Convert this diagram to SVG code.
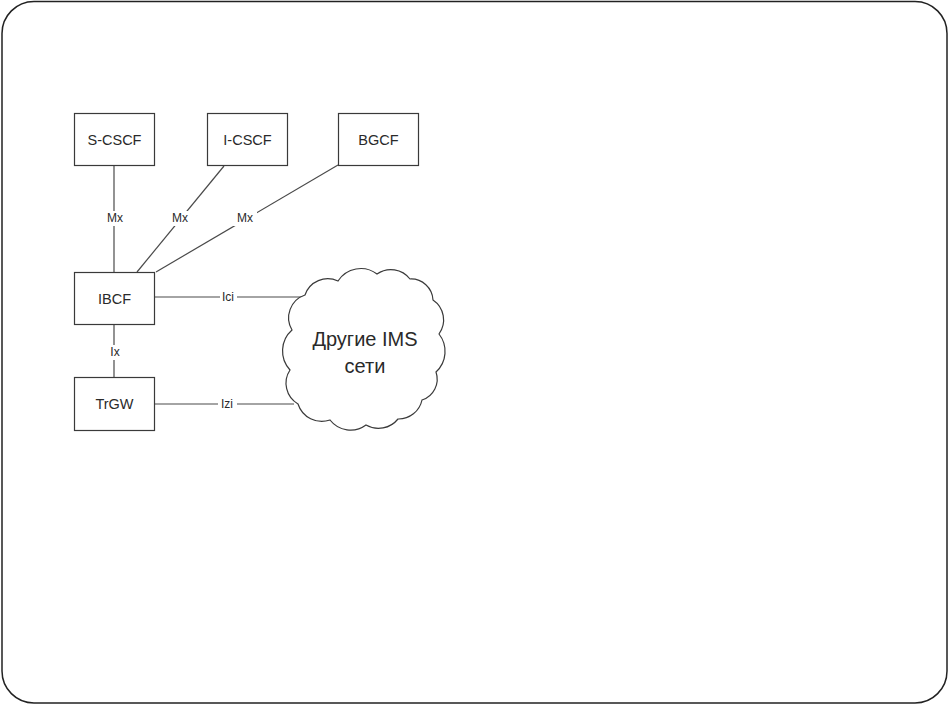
<svg xmlns="http://www.w3.org/2000/svg" width="949" height="705" viewBox="0 0 949 705">
<style>
.box{fill:#fff;stroke:#3a3a3a;stroke-width:1.2}
.ln{stroke:#4a4a4a;stroke-width:1.2;fill:none}
.t{font-family:"Liberation Sans",Arial,sans-serif;fill:#2a2a2a;text-anchor:middle}
.bt{font-size:14.5px}
.lt{font-size:12px}
.bg{fill:#fff}
</style>
<rect x="2" y="1.5" width="945" height="701.5" rx="32" ry="32" fill="#fff" stroke="#222" stroke-width="1.5"/>
<g id="connectors">
<line class="ln" x1="114" y1="166" x2="114" y2="272"/>
<line class="ln" x1="224" y1="166" x2="137" y2="272"/>
<line class="ln" x1="338" y1="165" x2="156" y2="272"/>
<line class="ln" x1="155" y1="297" x2="308" y2="297"/>
<line class="ln" x1="114" y1="325" x2="114" y2="377"/>
<line class="ln" x1="155" y1="404" x2="294" y2="404"/>
<rect class="bg" x="103" y="211" width="23" height="15"/>
<text class="t lt" x="115" y="222">Mx</text>
<rect class="bg" x="168" y="211" width="24" height="15"/>
<text class="t lt" x="180" y="222">Mx</text>
<rect class="bg" x="233" y="211" width="24" height="15"/>
<text class="t lt" x="245" y="222">Mx</text>
<rect class="bg" x="220" y="290" width="17" height="15"/>
<text class="t lt" x="228" y="301">Ici</text>
<rect class="bg" x="108" y="345" width="13" height="15"/>
<text class="t lt" x="115" y="356">Ix</text>
<rect class="bg" x="218" y="397" width="19" height="15"/>
<text class="t lt" x="227" y="408">Izi</text>
</g>
<g id="S-CSCF"><rect class="box" x="74.5" y="113.5" width="80" height="52"/><text class="t bt" x="114.5" y="145">S-CSCF</text></g>
<g id="I-CSCF"><rect class="box" x="207.5" y="113.5" width="80" height="52"/><text class="t bt" x="247.5" y="145">I-CSCF</text></g>
<g id="BGCF"><rect class="box" x="338.5" y="113.5" width="80" height="52"/><text class="t bt" x="378.5" y="145">BGCF</text></g>
<g id="IBCF"><rect class="box" x="74.5" y="272.5" width="80" height="52"/><text class="t bt" x="114.5" y="304">IBCF</text></g>
<g id="TrGW"><rect class="box" x="74.5" y="377.5" width="80" height="53"/><text class="t bt" x="114.5" y="409">TrGW</text></g>
<g id="cloud">
<path class="box" d="M305,295 A24,24 0 0 1 338,281 A27,27 0 0 1 377,274 A24,24 0 0 1 410,279 A22,22 0 0 1 433,300 A24,24 0 0 1 439,334 A28,28 0 0 1 436,372 A22,22 0 0 1 422,400 A24,24 0 0 1 398,419 A25,25 0 0 1 366,425 A26,26 0 0 1 330,420 A25,25 0 0 1 298,404 A24,24 0 0 1 290,370 A28,28 0 0 1 292,330 A24,24 0 0 1 305,295 Z"/>
<text class="t" font-size="20" x="365" y="346">Другие IMS</text>
<text class="t" font-size="20" x="365" y="373">сети</text>
</g>
</svg>
